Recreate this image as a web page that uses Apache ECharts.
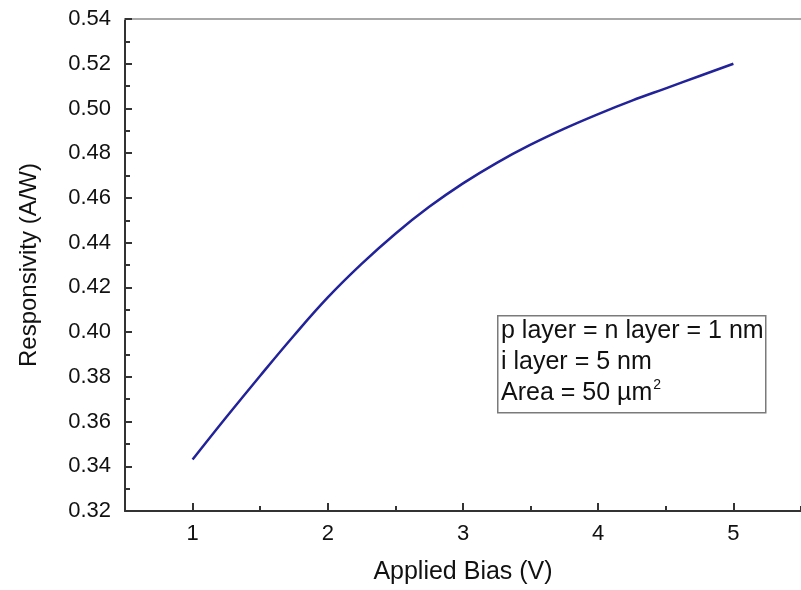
<!DOCTYPE html>
<html>
<head>
<meta charset="utf-8">
<script src="https://cdn.jsdelivr.net/npm/echarts@6/dist/echarts.min.js"></script>
<style>html,body{margin:0;padding:0;background:#fff;}#c{width:801px;height:590px;}</style>
</head>
<body>
<div id="c"></div>
<script>
var biasV = [1, 1.25, 1.5, 1.75, 2, 2.25, 2.5, 2.75, 3, 3.25, 3.5, 3.75, 4, 4.25, 4.5, 4.75, 5];
var responsivity = [0.343, 0.362, 0.3805, 0.3985, 0.4155, 0.4305, 0.444, 0.456, 0.4665, 0.4757, 0.4838, 0.491, 0.4975, 0.5035, 0.509, 0.5145, 0.520];
var xMajorTicks = [1, 2, 3, 4, 5];
var noteLines = ['p layer = n layer = 1 nm', 'i layer = 5 nm'];
var xTitle = 'Applied Bias (V)';
var yTitle = 'Responsivity (A/W)';

var chart = echarts.init(document.getElementById('c'), null, {renderer: 'canvas'});
var font = '"Liberation Sans", Arial, sans-serif';
var ink = '#111';
var pairs = biasV.map(function (x, i) { return [x, responsivity[i]]; });

chart.setOption({
  backgroundColor: '#fff',
  animation: false,
  grid: {left: 125, top: 19, width: 676, height: 496, containLabel: false},
  xAxis: [
    {
      type: 'value', min: 0.5, max: 5.5, interval: 0.5, position: 'bottom', offset: 0,
      axisLine: {show: true, lineStyle: {color: '#333', width: 2}},
      axisTick: {show: true, inside: true, length: 5, lineStyle: {color: '#333', width: 2}},
      axisLabel: {show: false},
      splitLine: {show: false}
    },
    {
      type: 'value', min: 0.5, max: 5.5, position: 'bottom', offset: 0,
      axisLine: {show: false},
      axisTick: {show: true, inside: true, length: 8, customValues: xMajorTicks, lineStyle: {color: '#333', width: 2}},
      axisLabel: {show: true, customValues: xMajorTicks, color: ink, fontFamily: font, fontSize: 22, margin: 12},
      splitLine: {show: false},
      name: xTitle, nameLocation: 'middle', nameGap: 49,
      nameTextStyle: {color: ink, fontFamily: font, fontSize: 25}
    },
    {
      type: 'value', min: 0.5, max: 5.5, position: 'top', offset: 0,
      axisLine: {show: true, lineStyle: {color: '#a8a8a8', width: 2}},
      axisTick: {show: false}, axisLabel: {show: false}, splitLine: {show: false}
    }
  ],
  yAxis: [
    {
      type: 'value', min: 0.32, max: 0.54, interval: 0.02, position: 'left',
      axisLine: {show: true, lineStyle: {color: '#333', width: 2}},
      axisTick: {show: true, inside: true, length: 7, lineStyle: {color: '#333', width: 2}},
      minorTick: {show: true, splitNumber: 2, length: 5, lineStyle: {color: '#333', width: 2}},
      axisLabel: {color: ink, fontFamily: font, fontSize: 22, margin: 14,
        formatter: function (v) { return v.toFixed(2); }},
      splitLine: {show: false}, minorSplitLine: {show: false},
      name: yTitle, nameLocation: 'middle', nameGap: 84, nameRotate: 90,
      nameTextStyle: {color: ink, fontFamily: font, fontSize: 24}
    }
  ],
  series: [
    {
      type: 'line', xAxisIndex: 0, yAxisIndex: 0, data: pairs,
      smooth: 0.4, showSymbol: false, symbol: 'none',
      lineStyle: {color: '#22229a', width: 2.5}
    }
  ],
  graphic: [
    {
      type: 'rect', left: 497, top: 315,
      shape: {width: 268, height: 97},
      style: {fill: '#fff', stroke: '#7a7a7a', lineWidth: 1.5}
    },
    {
      type: 'text', left: 501, top: 316,
      style: {
        text: noteLines[0] + '\n' + noteLines[1] + '\n{n|Area = 50 µm}{s|2}',
        font: '25px ' + font, fill: ink, lineHeight: 31,
        rich: {
          n: {fontFamily: font, fontSize: 25, fill: ink, lineHeight: 31},
          s: {fontFamily: font, fontSize: 14, fill: ink, verticalAlign: 'top', padding: [0, 0, 12, 1], lineHeight: 31}
        }
      }
    }
  ]
});
</script>
</body>
</html>
